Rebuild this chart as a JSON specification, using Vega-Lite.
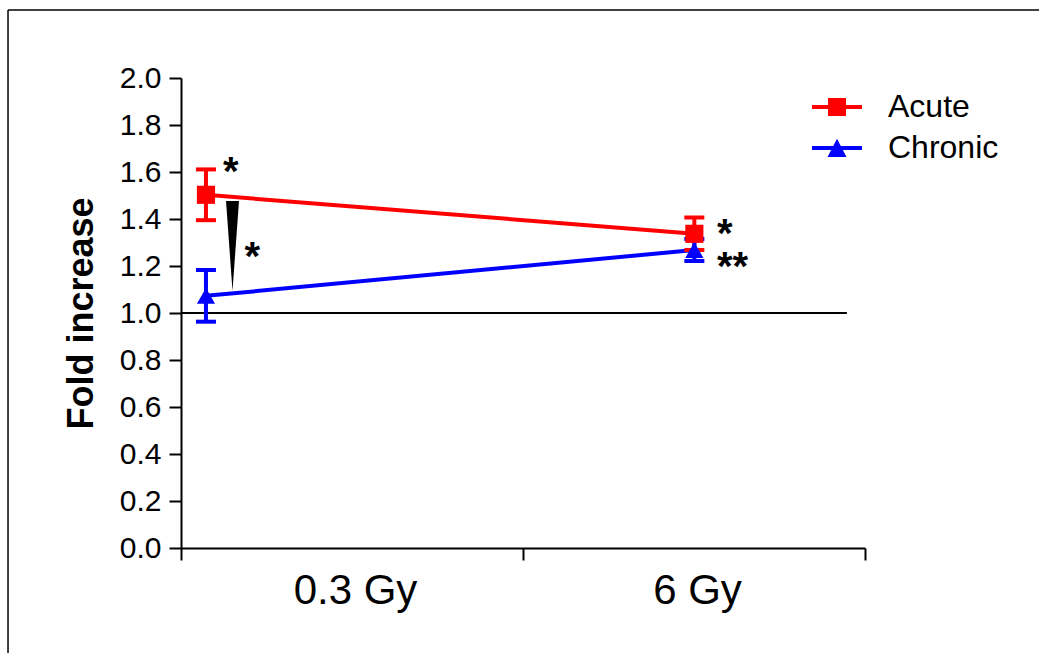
{
  "$schema": "https://vega.github.io/schema/vega-lite/v6.json",
  "autosize": {"type": "none"},
  "padding": {"left": 181, "top": 78, "right": 174, "bottom": 105},
  "width": 684,
  "height": 470,
  "background": "white",
  "config": {
    "view": {"stroke": null},
    "font": "Liberation Sans",
    "axis": {"labelFont": "Liberation Sans", "titleFont": "Liberation Sans", "labelColor": "black", "titleColor": "black", "domainColor": "black", "tickColor": "black", "grid": false},
    "legend": {"labelFont": "Liberation Sans"}
  },
  "datasets": {
    "pts": [
      {"series": "Acute", "dose": "0.3 Gy", "x": 0.073, "y": 1.503, "lo": 1.395, "hi": 1.611},
      {"series": "Acute", "dose": "6 Gy", "x": 1.501, "y": 1.337, "lo": 1.268, "hi": 1.406},
      {"series": "Chronic", "dose": "0.3 Gy", "x": 0.073, "y": 1.073, "lo": 0.963, "hi": 1.183},
      {"series": "Chronic", "dose": "6 Gy", "x": 1.501, "y": 1.268, "lo": 1.221, "hi": 1.315}
    ],
    "notes": [
      {"label": "*", "x": 0.1228, "y": 1.545},
      {"label": "*", "x": 0.1857, "y": 1.183},
      {"label": "*", "x": 1.567, "y": 1.281},
      {"label": "**", "x": 1.567, "y": 1.141}
    ],
    "one": [{}]
  },
  "layer": [
    {
      "data": {"name": "pts"},
      "mark": {"type": "line", "strokeWidth": 4},
      "encoding": {
        "x": {
          "field": "x", "type": "quantitative",
          "scale": {"domain": [0, 2], "nice": false, "zero": false},
          "axis": {
            "title": null,
            "values": [0, 0.5, 1, 1.5, 2],
            "labelExpr": "datum.value == 0.5 ? '0.3 Gy' : (datum.value == 1.5 ? '6 Gy' : '')",
            "labelFontSize": 42,
            "labelPadding": 10,
            "labelOffset": 3,
            "labelFlush": false,
            "labelOverlap": false,
            "labelBound": false,
            "tickSize": 12,
            "tickWidth": 2,
            "domainWidth": 2,
            "tickOpacity": {"condition": {"test": "datum.value == 0.5 || datum.value == 1.5", "value": 0}, "value": 1}
          }
        },
        "y": {
          "field": "y", "type": "quantitative",
          "scale": {"domain": [0, 2], "nice": false, "zero": false},
          "axis": {
            "title": "Fold increase",
            "titleFontSize": 36,
            "titleFontWeight": "bold",
            "titlePadding": 19,
            "values": [0, 0.2, 0.4, 0.6, 0.8, 1.0, 1.2, 1.4, 1.6, 1.8, 2.0],
            "format": ".1f",
            "labelFontSize": 30,
            "labelPadding": 8,
            "labelOverlap": false,
            "labelBound": false,
            "labelFlush": false,
            "tickSize": 12,
            "tickWidth": 2,
            "domainWidth": 2
          }
        },
        "detail": {"field": "series", "type": "nominal"},
        "color": {"condition": {"test": "datum.series == 'Acute'", "value": "#ff0000"}, "value": "#0000ff"}
      }
    },
    {
      "data": {"name": "one"},
      "mark": {"type": "rule", "color": "black", "strokeWidth": 1.5},
      "encoding": {
        "x": {"datum": -0.5058, "type": "quantitative", "scale": {"domain": [0, 2], "nice": false, "zero": false}},
        "x2": {"datum": 2.51},
        "y": {"datum": 2.2894, "type": "quantitative", "scale": {"domain": [0, 2], "nice": false, "zero": false}}
      }
    },
    {
      "data": {"name": "one"},
      "mark": {"type": "rule", "color": "black", "strokeWidth": 1.5},
      "encoding": {
        "x": {"datum": -0.5058, "type": "quantitative", "scale": {"domain": [0, 2], "nice": false, "zero": false}},
        "y": {"datum": 2.2894, "type": "quantitative", "scale": {"domain": [0, 2], "nice": false, "zero": false}},
        "y2": {"datum": -0.447}
      }
    },
    {
      "data": {"name": "one"},
      "mark": {"type": "rule", "color": "black", "strokeWidth": 2},
      "encoding": {
        "x": {"datum": 0, "type": "quantitative", "scale": {"domain": [0, 2], "nice": false, "zero": false}},
        "x2": {"datum": 1.947},
        "y": {"datum": 1, "type": "quantitative", "scale": {"domain": [0, 2], "nice": false, "zero": false}}
      }
    },
    {
      "data": {"name": "pts"},
      "mark": {"type": "rule", "strokeWidth": 4},
      "encoding": {
        "x": {"field": "x", "type": "quantitative", "scale": {"domain": [0, 2], "nice": false, "zero": false}},
        "y": {"field": "lo", "type": "quantitative", "scale": {"domain": [0, 2], "nice": false, "zero": false}},
        "y2": {"field": "hi"},
        "color": {"condition": {"test": "datum.series == 'Acute'", "value": "#ff0000"}, "value": "#0000ff"}
      }
    },
    {
      "data": {"name": "pts"},
      "mark": {"type": "tick", "orient": "horizontal", "size": 20, "thickness": 4, "opacity": 1},
      "encoding": {
        "x": {"field": "x", "type": "quantitative", "scale": {"domain": [0, 2], "nice": false, "zero": false}},
        "y": {"field": "lo", "type": "quantitative", "scale": {"domain": [0, 2], "nice": false, "zero": false}},
        "color": {"condition": {"test": "datum.series == 'Acute'", "value": "#ff0000"}, "value": "#0000ff"}
      }
    },
    {
      "data": {"name": "pts"},
      "mark": {"type": "tick", "orient": "horizontal", "size": 20, "thickness": 4, "opacity": 1},
      "encoding": {
        "x": {"field": "x", "type": "quantitative", "scale": {"domain": [0, 2], "nice": false, "zero": false}},
        "y": {"field": "hi", "type": "quantitative", "scale": {"domain": [0, 2], "nice": false, "zero": false}},
        "color": {"condition": {"test": "datum.series == 'Acute'", "value": "#ff0000"}, "value": "#0000ff"}
      }
    },
    {
      "data": {"name": "pts"},
      "mark": {"type": "point", "filled": true, "size": 330, "opacity": 1, "strokeWidth": 0},
      "encoding": {
        "x": {"field": "x", "type": "quantitative", "scale": {"domain": [0, 2], "nice": false, "zero": false}},
        "y": {"field": "y", "type": "quantitative", "scale": {"domain": [0, 2], "nice": false, "zero": false}},
        "color": {"condition": {"test": "datum.series == 'Acute'", "value": "#ff0000"}, "value": "#0000ff"},
        "shape": {"condition": {"test": "datum.series == 'Acute'", "value": "square"}, "value": "triangle-up"}
      }
    },
    {
      "data": {"name": "one"},
      "mark": {"type": "point", "filled": true, "size": 8100, "opacity": 1, "color": "black", "strokeWidth": 0, "shape": "M-0.144,-1L0.144,-1L0,1Z"},
      "encoding": {
        "x": {"datum": 0.1506, "type": "quantitative", "scale": {"domain": [0, 2], "nice": false, "zero": false}},
        "y": {"datum": 1.285, "type": "quantitative", "scale": {"domain": [0, 2], "nice": false, "zero": false}}
      }
    },
    {
      "data": {"name": "notes"},
      "mark": {"type": "text", "align": "left", "baseline": "alphabetic", "fontSize": 40, "fontWeight": "bold", "font": "Liberation Sans", "color": "black"},
      "encoding": {
        "x": {"field": "x", "type": "quantitative", "scale": {"domain": [0, 2], "nice": false, "zero": false}},
        "y": {"field": "y", "type": "quantitative", "scale": {"domain": [0, 2], "nice": false, "zero": false}},
        "text": {"field": "label"}
      }
    },
    {
      "data": {"name": "pts"},
      "transform": [{"filter": "false"}],
      "mark": {"type": "point", "filled": true, "size": 2500, "opacity": 1, "strokeWidth": 0},
      "encoding": {
        "x": {"field": "x", "type": "quantitative", "scale": {"domain": [0, 2], "nice": false, "zero": false}},
        "y": {"field": "y", "type": "quantitative", "scale": {"domain": [0, 2], "nice": false, "zero": false}},
        "color": {
          "field": "series", "type": "nominal",
          "scale": {"domain": ["Acute", "Chronic"], "range": ["#ff0000", "#0000ff"]},
          "legend": {"title": null, "orient": "none", "legendX": 631, "legendY": 4, "labelFontSize": 32, "labelColor": "black", "symbolSize": 2500, "rowPadding": 0, "labelOffset": 26, "padding": 0, "symbolStrokeWidth": 0, "symbolOpacity": 1}
        },
        "shape": {
          "field": "series", "type": "nominal",
          "scale": {"domain": ["Acute", "Chronic"], "range": ["M-1,-0.08L1,-0.08L1,0.08L-1,0.08Z M-0.36,-0.36L0.36,-0.36L0.36,0.36L-0.36,0.36Z", "M-1,-0.08L1,-0.08L1,0.08L-1,0.08Z M0,-0.37L0.38,0.36L-0.38,0.36Z"]},
          "legend": {"title": null, "orient": "none", "legendX": 631, "legendY": 4, "labelFontSize": 32, "labelColor": "black", "symbolSize": 2500, "rowPadding": 0, "labelOffset": 26, "padding": 0, "symbolStrokeWidth": 0, "symbolOpacity": 1}
        }
      }
    }
  ]
}
